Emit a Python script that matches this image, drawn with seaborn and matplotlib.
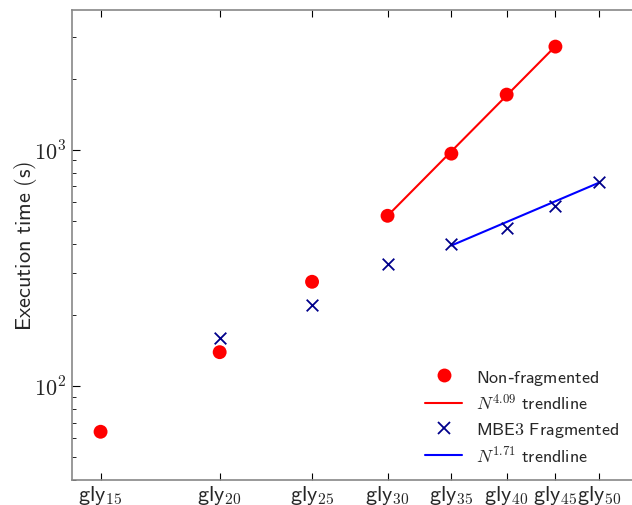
import numpy as np
import pandas as pd
import matplotlib
matplotlib.use("Agg")
import matplotlib.pyplot as plt
import seaborn as sns
from matplotlib.lines import Line2D
from matplotlib.ticker import FixedLocator, FixedFormatter, NullLocator, LogLocator

# ---- data ----
nonfrag_n = [15, 20, 25, 30, 35, 40, 45]
nonfrag_t = [64, 139, 276, 525, 962, 1710, 2730]
mbe3_n = [20, 25, 30, 35, 40, 45, 50]
mbe3_t = [160, 220, 329, 400, 467, 579, 731]
trend_nonfrag_n = [30, 45]
trend_nonfrag_t = [525, 2740]
trend_mbe3_n = [35, 50]
trend_mbe3_t = [393, 725]
xtick_vals = [15, 20, 25, 30, 35, 40, 45, 50]
xtick_labels = [r"$\mathsf{gly}_{\mathsf{%d}}$" % v for v in xtick_vals]

sns.set_style("ticks")
plt.rcParams["mathtext.fontset"] = "cm"
plt.rcParams["font.family"] = ["DejaVu Sans"]

W, H = 632, 506
fig = plt.figure(figsize=(W / 100, H / 100), dpi=100)
ax_l, ax_r, ax_t, ax_b = 72, 640, 11, 481
ax = fig.add_axes([ax_l / W, 1 - ax_b / H, (ax_r - ax_l) / W, (ax_b - ax_t) / H])

df_nf = pd.DataFrame({"n": nonfrag_n, "t": nonfrag_t})
df_mb = pd.DataFrame({"n": mbe3_n, "t": mbe3_t})
df_tnf = pd.DataFrame({"n": trend_nonfrag_n, "t": trend_nonfrag_t})
df_tmb = pd.DataFrame({"n": trend_mbe3_n, "t": trend_mbe3_t})

sns.lineplot(data=df_tnf, x="n", y="t", color="red", linewidth=1.5, ax=ax)
sns.lineplot(data=df_tmb, x="n", y="t", color="blue", linewidth=1.5, ax=ax)
sns.scatterplot(data=df_nf, x="n", y="t", color="red", marker="o", s=100,
                edgecolor="none", ax=ax, zorder=3)
sns.scatterplot(data=df_mb, x="n", y="t", color="#00008B", marker="x", s=70,
                linewidth=1.3, ax=ax, zorder=3)

ax.set_xscale("log")
ax.set_yscale("log")
ax.set_xlim(14, 55.2)
ax.set_ylim(40, 3900)

ax.xaxis.set_major_locator(FixedLocator(xtick_vals))
ax.xaxis.set_major_formatter(FixedFormatter(xtick_labels))
ax.xaxis.set_minor_locator(NullLocator())
ax.yaxis.set_major_locator(FixedLocator([100, 1000]))
ax.yaxis.set_major_formatter(FixedFormatter([r"$10^{2}$", r"$10^{3}$"]))
ax.yaxis.set_minor_locator(LogLocator(base=10, subs=np.arange(2, 10), numticks=20))

ax.tick_params(axis="both", which="both", direction="in", top=True, right=False,
               color="black")
ax.tick_params(axis="x", which="major", labelsize=16, length=5, pad=2)
ax.tick_params(axis="y", which="major", labelsize=16, length=6, pad=4)
ax.tick_params(axis="y", which="minor", length=3)

for s in ax.spines.values():
    s.set_color("#888888")
    s.set_linewidth(1.2)

ax.set_xlabel("")
ax.set_ylabel(r"$\mathsf{Execution\ time\ (s)}$", fontsize=16)
ax.yaxis.set_label_coords((12 - ax_l) / (ax_r - ax_l), 0.5)
ax.yaxis.label.set_verticalalignment("top")

handles = [
    Line2D([], [], color="red", marker="o", linestyle="", markersize=10, markeredgewidth=0),
    Line2D([], [], color="red", linewidth=1.5),
    Line2D([], [], color="#00008B", marker="x", linestyle="", markersize=8.5, markeredgewidth=1.3),
    Line2D([], [], color="blue", linewidth=1.5),
]
labels = [
    r"$\mathsf{Non}$-$\mathsf{fragmented}$",
    r"$N^{4.09}\ \mathsf{trendline}$",
    r"$\mathsf{MBE3\ Fragmented}$",
    r"$N^{1.71}\ \mathsf{trendline}$",
]
fs = 13
px = fs * 100 / 72
ax.legend(handles, labels, loc="lower left", frameon=False, fontsize=fs,
          bbox_to_anchor=((425 - 0.4 * px - ax_l) / (ax_r - ax_l),
                          (ax_b - 474) / (ax_b - ax_t)),
          borderaxespad=0, handlelength=37 / px, labelspacing=0.36,
          handletextpad=14 / px)

fig.savefig("out.png", dpi=100)
